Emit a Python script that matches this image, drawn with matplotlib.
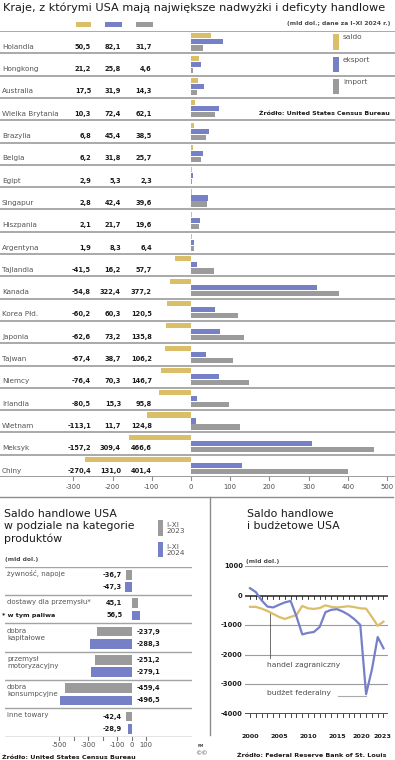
import numpy as np
import matplotlib
matplotlib.use('Agg')
import matplotlib.pyplot as plt
from matplotlib.patches import Rectangle
from matplotlib.lines import Line2D

plt.rcParams['font.family'] = ['DejaVu Sans']

# --- data: top chart (mld dol., I-XI 2024) ---
countries = ['Holandia', 'Hongkong', 'Australia', 'Wielka Brytania', 'Brazylia',
             'Belgia', 'Egipt', 'Singapur', 'Hiszpania', 'Argentyna',
             'Tajlandia', 'Kanada', 'Korea Płd.', 'Japonia', 'Tajwan',
             'Niemcy', 'Irlandia', 'Wietnam', 'Meksyk', 'Chiny']
saldo = [50.5, 21.2, 17.5, 10.3, 6.8, 6.2, 2.9, 2.8, 2.1, 1.9,
         -41.5, -54.8, -60.2, -62.6, -67.4, -76.4, -80.5, -113.1, -157.2, -270.4]
eksport = [82.1, 25.8, 31.9, 72.4, 45.4, 31.8, 5.3, 42.4, 21.7, 8.3,
           16.2, 322.4, 60.3, 73.2, 38.7, 70.3, 15.3, 11.7, 309.4, 131.0]
importy = [31.7, 4.6, 14.3, 62.1, 38.5, 25.7, 2.3, 39.6, 19.6, 6.4,
           57.7, 377.2, 120.5, 135.8, 106.2, 146.7, 95.8, 124.8, 466.6, 401.4]
top_ticks = [-300, -200, -100, 0, 100, 200, 300, 400, 500]

# --- data: categories ---
categories = ['żywność, napoje', 'dostawy dla przemysłu*', 'dobra\nkapitałowe',
              'przemysł\nmotoryzacyjny', 'dobra\nkonsumpcyjne', 'inne towary']
cat_2023 = [-36.7, 45.1, -237.9, -251.2, -459.4, -42.4]
cat_2024 = [-47.3, 56.5, -288.3, -279.1, -496.5, -28.9]
cat_ticks = [-500, -400, -300, -200, -100, 0, 100]
cat_labels = [-500, -300, -100, 0, 100]

# --- data: trade vs budget balance ---
years = list(range(2000, 2024))
handel = [-380, -380, -440, -520, -620, -720, -790, -720, -660, -350, -430, -450,
          -420, -330, -380, -400, -380, -360, -390, -430, -440, -720, -1020, -880]
budzet = [250, 120, -160, -370, -400, -310, -230, -180, -700, -1310, -1260, -1230,
          -1060, -560, -480, -460, -540, -650, -800, -990, -3330, -2500, -1400, -1780]
year_labels = [2000, 2005, 2010, 2015, 2020, 2023]
y_levels = [1000, 0, -1000, -2000, -3000, -4000]

GOLD = '#dbbe68'
BLUE = '#7680c6'
GRAY = '#9b9b9b'
DARK = '#1a1a1a'
TXT = '#4a4a4a'
LINE = '#a3a3a3'

W, H = 395, 760
fig = plt.figure(figsize=(W / 100, H / 100), dpi=100)
fig.patch.set_facecolor('white')


def px_axes(x0, y0, x1, y1):
    ax = fig.add_axes([x0 / W, 1 - y1 / H, (x1 - x0) / W, (y1 - y0) / H])
    ax.set_axis_off()
    return ax


def ftext(x, y, s, **kw):
    fig.text(x / W, 1 - y / H, s, **kw)


def frect(x0, y0, x1, y1, color):
    fig.add_artist(Rectangle((x0 / W, 1 - y1 / H), (x1 - x0) / W, (y1 - y0) / H,
                             transform=fig.transFigure, color=color, lw=0))


def fline(x0, y0, x1, y1, **kw):
    fig.add_artist(Line2D([x0 / W, x1 / W], [1 - y0 / H, 1 - y1 / H],
                          transform=fig.transFigure, **kw))


def fmt(v):
    return f"{v:.1f}".replace('.', ',')


# ================= top chart =================
ftext(3, 2.5, 'Kraje, z którymi USA mają największe nadwyżki i deficyty handlowe',
      fontsize=8.1, color=DARK, va='top', ha='left')
ftext(390, 24, '(mld dol.; dane za I–XI 2024 r.)', fontsize=4.3, fontweight='bold',
      color=TXT, ha='right', va='center')
frect(76, 22, 91, 27, GOLD)
frect(105, 22, 122, 27, BLUE)
frect(136, 22, 153, 27, GRAY)

ax = px_axes(0, 31, 395, 477)
zero_px, scale = 191, 0.392
ax.set_xlim(-zero_px / scale, (W - zero_px) / scale)
ax.set_ylim(len(countries), 0)
rows = np.arange(len(countries))
ax.barh(rows + 0.22, saldo, height=0.23, color=GOLD, lw=0)
ax.barh(rows + 0.49, eksport, height=0.23, color=BLUE, lw=0)
ax.barh(rows + 0.76, importy, height=0.23, color=GRAY, lw=0)
for r in rows:
    ax.axhline(r, color=LINE, lw=1.3)
ax.axhline(len(countries), color='#8c8c8c', lw=1.2)
tr = ax.get_yaxis_transform()
for r, name in enumerate(countries):
    ax.text(2 / W, r + 0.71, name, transform=tr, fontsize=5.2, color='#555555',
            va='center')
    for px, v in zip([91, 121, 152], [saldo[r], eksport[r], importy[r]]):
        ax.text(px / W, r + 0.71, fmt(v), transform=tr, fontsize=4.8,
                fontweight='bold', color=DARK, va='center', ha='right')
for t in top_ticks:
    ax.plot([t, t], [len(countries), len(countries) + 0.14], color='#8c8c8c',
            lw=0.8, clip_on=False)
    ax.text(t, len(countries) + 0.46, str(t), fontsize=4.9, color=TXT,
            ha='center', va='center')

# legend on the right
for (y0, y1, c, lab) in [(34, 50, GOLD, 'saldo'), (57, 72, BLUE, 'eksport'),
                         (79, 94, GRAY, 'import')]:
    frect(333, y0, 339, y1, c)
    ftext(343, y0 + 3, lab, fontsize=5.3, color='#555555', va='center')
ftext(390, 113, 'Źródło: United States Census Bureau', fontsize=4.5,
      fontweight='bold', color=DARK, ha='right', va='center')

# dividers
fline(0, 497, 393, 497, color='#8c8c8c', lw=1.0)
fline(210, 497, 210, 735, color='#8c8c8c', lw=1.0)

# ================= bottom left =================
ftext(4, 509, 'Saldo handlowe USA\nw podziale na kategorie\nproduktów', fontsize=7.8,
      color=DARK, va='top', ha='left', linespacing=1.28)
ftext(5, 560, '(mld dol.)', fontsize=4.3, fontweight='bold', color=TXT, va='center')
frect(158, 520, 163, 536, GRAY)
frect(158, 542, 163, 557, BLUE)
ftext(166, 528, 'I–XI\n2023', fontsize=5.2, color='#555555', va='center',
      linespacing=1.0)
ftext(166, 550, 'I–XI\n2024', fontsize=5.2, color='#555555', va='center',
      linespacing=1.0)

ax2 = px_axes(5, 566.7, 192, 736.7)
zero2, scale2 = 131.7, 0.145
ax2.set_xlim((5 - zero2) / scale2, (192 - zero2) / scale2)
ax2.set_ylim(len(categories), 0)
crow = np.arange(len(categories))
ax2.barh(crow + 0.29, cat_2023, height=0.34, color=GRAY, lw=0)
ax2.barh(crow + 0.72, cat_2024, height=0.34, color=BLUE, lw=0)
for r in crow:
    ax2.axhline(r, color=LINE, lw=1.0)
ax2.axhline(len(categories), color='#777777', lw=1.0)
tr2 = ax2.get_yaxis_transform()
for r, name in enumerate(categories):
    n = name.count('\n')
    ax2.text(2 / 187, r + 0.24 + 0.14 * n, name, transform=tr2, fontsize=5.0,
             color='#555555', va='center', linespacing=1.15)
    for v, yy in [(cat_2023[r], r + 0.29), (cat_2024[r], r + 0.72)]:
        if abs(v) > 100:
            ax2.text(37, yy, fmt(v), fontsize=4.8, fontweight='bold', color=DARK,
                     ha='left', va='center')
        else:
            ax2.text(-66, yy, fmt(v), fontsize=4.8, fontweight='bold', color=DARK,
                     ha='right', va='center')
ax2.text(-3 / 187, 1 + 0.74, '* w tym paliwa', transform=tr2, fontsize=4.6,
         fontweight='bold', color=DARK, va='center')
for t in cat_ticks:
    ax2.plot([t, t], [len(categories), len(categories) + 0.1], color='#777777',
             lw=0.8, clip_on=False)
for t in cat_labels:
    ax2.text(t, len(categories) + 0.3, str(t), fontsize=4.9, color=TXT,
             ha='center', va='center')
ftext(2, 757, 'Źródło: United States Census Bureau', fontsize=4.6, fontweight='bold',
      color=DARK, va='center')

# ================= bottom right =================
ftext(247, 509, 'Saldo handlowe\ni budżetowe USA', fontsize=7.8, color=DARK,
      va='top', ha='left', linespacing=1.28)
ftext(246, 561, '(mld dol.)', fontsize=4.3, fontweight='bold', color=TXT, va='center')

ax3 = px_axes(245, 566, 388, 714)
ax3.set_ylim(-4000, 1000)
# 2000 -> ~250 px, 2023 -> ~383.5 px
ppy = 133.5 / 23
ax3.set_xlim(2000 - 5 / ppy, 2023 + 4.5 / ppy)
for lv in y_levels:
    if lv in (0, -4000):
        ax3.axhline(lv, color='#222222', lw=1.1, zorder=1)
        for yr in years:
            ax3.plot([yr, yr], [lv, lv - 100], color='#222222', lw=0.6,
                     clip_on=False, zorder=1)
    else:
        ax3.axhline(lv, color=GRAY, lw=0.8, zorder=1)
    ax3.text(-0.015, lv, str(lv), transform=ax3.get_yaxis_transform(), fontsize=4.9,
             fontweight='bold', color=DARK, ha='right', va='center')
ax3.plot(years, handel, color=GOLD, lw=1.6, zorder=3, solid_joinstyle='round')
ax3.plot(years, budzet, color=BLUE, lw=1.6, zorder=3, solid_joinstyle='round')
# labels sit a little left of their year in the original, so 2020/2023 don't touch
label_shift = {2020: -0.8, 2023: -0.2}
for yr in year_labels:
    ax3.text(yr + label_shift.get(yr, 0), -4770, str(yr), fontsize=4.6,
             fontweight='bold', color=DARK, ha='center', va='center', clip_on=False)

# annotations
ax3.plot([2003.4, 2003.4], [-560, -2120], color='#555555', lw=0.6, zorder=2)
ax3.text(2002.9, -2360, 'handel zagraniczny', fontsize=5.4, color=TXT, va='center')
ax3.plot([2015.2, 2019.9], [-3380, -3380], color='#aaaaaa', lw=0.8, zorder=2)
ax3.text(2002.9, -3300, 'budżet federalny', fontsize=5.4, color=TXT, va='center')

ftext(237, 755, 'Źródło: Federal Reserve Bank of St. Louis', fontsize=4.6,
      fontweight='bold', color=DARK, va='center')
ftext(201, 746, 'RM', fontsize=2.6, fontweight='bold', color=TXT, ha='center', va='center')
ftext(201, 754, '©©', fontsize=4.5, color=TXT, ha='center', va='center')

fig.savefig('out.png', dpi=100, facecolor='white')
